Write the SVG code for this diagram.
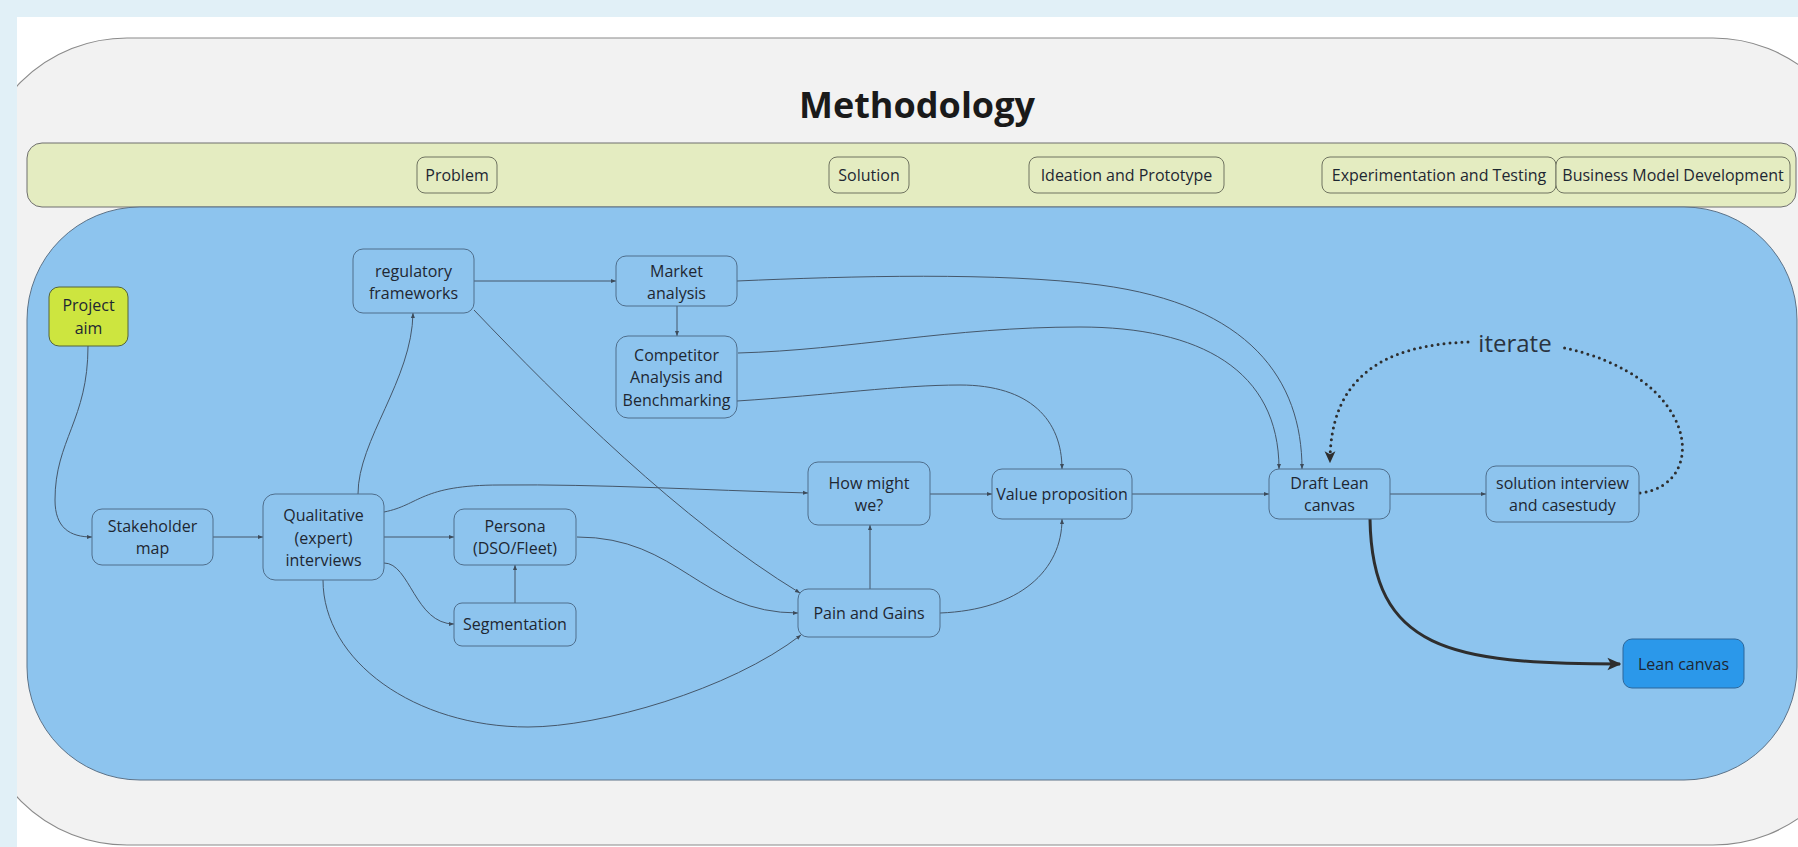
<svg xmlns="http://www.w3.org/2000/svg" width="1798" height="847" viewBox="0 0 1798 847">
<style>
text{font-family:"Open Sans","Liberation Sans",sans-serif;fill:#1e2732;font-size:16px;text-anchor:middle}
.node{fill:#8dc4ee;stroke:#4f6e8c;stroke-width:1}
.phase{fill:#e4ecc1;stroke:#6f7360;stroke-width:1}
.c{fill:none;stroke:#45576a;stroke-width:1;marker-end:url(#a)}
</style>
<defs>
<clipPath id="frame"><rect x="17" y="17" width="1781" height="830"/></clipPath>
<marker id="a" viewBox="0 0 10 10" refX="10" refY="5" markerWidth="5" markerHeight="5" markerUnits="userSpaceOnUse" orient="auto"><path d="M0,1 L10,5 L0,9 z" fill="#3d4b5a"/></marker>
<marker id="big" viewBox="0 0 10 10" refX="9" refY="5" markerWidth="14" markerHeight="14" markerUnits="userSpaceOnUse" orient="auto"><path d="M0,0.5 L10,5 L0,9.5 L2.5,5 z" fill="#2e2e2e"/></marker>
<marker id="dotarrow" viewBox="0 0 10 10" refX="9" refY="5" markerWidth="12" markerHeight="12" markerUnits="userSpaceOnUse" orient="auto"><path d="M0,0.5 L10,5 L0,9.5 L2.5,5 z" fill="#2e2e2e"/></marker>
</defs>
<rect x="0" y="0" width="1798" height="847" fill="#e1f0f7"/>
<rect x="17" y="17" width="1781" height="830" fill="#ffffff"/>
<g id="frame-methodology" clip-path="url(#frame)">
<rect x="-23" y="38" width="1886" height="807" rx="150" ry="150" fill="#f2f2f2" stroke="#8a8a8a" stroke-width="1.2"/>
</g>
<text x="917" y="118" style="font-size:36px;font-weight:bold;fill:#1a1a1a">Methodology</text>
<g id="phase-band">
<rect x="27" y="143" width="1769" height="64" rx="15" fill="#e4ecc1" stroke="#6f6f6f" stroke-width="1"/>
</g>
<g id="phase-problem"><rect class="phase" x="417" y="157" width="80" height="36" rx="8"/><text x="457" y="181">Problem</text></g>
<g id="phase-solution"><rect class="phase" x="829" y="157" width="80" height="36" rx="8"/><text x="869" y="181">Solution</text></g>
<g id="phase-ideation"><rect class="phase" x="1029" y="157" width="195" height="36" rx="8"/><text x="1126.5" y="181">Ideation and Prototype</text></g>
<g id="phase-experimentation"><rect class="phase" x="1322" y="157" width="234" height="36" rx="8"/><text x="1439" y="181">Experimentation and Testing</text></g>
<g id="phase-business"><rect class="phase" x="1556" y="157" width="234" height="36" rx="8"/><text x="1673" y="181">Business Model Development</text></g>
<g id="workspace">
<rect x="27" y="207" width="1770" height="573" rx="113" ry="113" fill="#8dc4ee" stroke="#5d7388" stroke-width="1"/>
</g>
<g id="connectors">
<path class="c" d="M88,346 C88,420 55,440 55,500 C55,528 70,537 92,537"/>
<path class="c" d="M213,537 L263,537"/>
<path class="c" d="M384,537 L454,537"/>
<path class="c" d="M358,494 C358,440 412,380 413,313"/>
<path class="c" d="M384,512 C420,505 420,485 500,485 C600,484 700,490 808,493"/>
<path class="c" d="M384,563 C410,563 415,624 454,624"/>
<path class="c" d="M323,580 C323,661 415,727 528,727 C600,727 730,690 801,635"/>
<path class="c" d="M515,603 L515,565"/>
<path class="c" d="M577,537 C680,537 700,613 798,613"/>
<path class="c" d="M474,310 C560,400 680,520 800,593"/>
<path class="c" d="M474,281 L616,281"/>
<path class="c" d="M677,306 L677,336"/>
<path class="c" d="M737,281 C850,276 1000,272 1100,285 C1250,305 1302,380 1302,469"/>
<path class="c" d="M738,353 C850,350 950,327 1080,327 C1200,327 1279,370 1279,469"/>
<path class="c" d="M737,401 C830,395 900,385 960,385 C1030,385 1062,420 1062,469"/>
<path class="c" d="M1132,494 L1269,494"/>
<path class="c" d="M930,494 L992,494"/>
<path class="c" d="M870,589 L870,525"/>
<path class="c" d="M940,613 C1020,610 1062,570 1062,519"/>
<path class="c" d="M1390,494 L1486,494"/>
<path d="M1640,493 C1710,485 1700,375 1560,347" fill="none" stroke="#2e2e2e" stroke-width="3" stroke-linecap="round" stroke-dasharray="0 6"/>
<path d="M1468,342 C1380,345 1330,380 1330,462" fill="none" stroke="#2e2e2e" stroke-width="3" stroke-linecap="round" stroke-dasharray="0 6" marker-end="url(#dotarrow)"/>
<text x="1515" y="352" style="font-size:24px;fill:#2a3340">iterate</text>
<path d="M1370,519 C1372,650 1450,664 1620,664" fill="none" stroke="#2e2e2e" stroke-width="3" marker-end="url(#big)"/>
</g>
<g id="project-aim"><rect x="49" y="287" width="79" height="59" rx="10" fill="#cde53f" stroke="#55643a" stroke-width="1"/><text x="88.5" y="311">Project</text><text x="88.5" y="334">aim</text></g>
<g id="stakeholder-map"><rect class="node" x="92" y="509" width="121" height="56" rx="10"/><text x="152.5" y="532">Stakeholder</text><text x="152.5" y="554">map</text></g>
<g id="qualitative-interviews"><rect class="node" x="263" y="494" width="121" height="86" rx="12"/><text x="323.5" y="521">Qualitative</text><text x="323.5" y="543.5">(expert)</text><text x="323.5" y="566">interviews</text></g>
<g id="regulatory-frameworks"><rect class="node" x="353" y="249" width="121" height="64" rx="10"/><text x="413.5" y="276.5">regulatory</text><text x="413.5" y="298.5">frameworks</text></g>
<g id="market-analysis"><rect class="node" x="616" y="256" width="121" height="50" rx="10"/><text x="676.5" y="276.5">Market</text><text x="676.5" y="298.5">analysis</text></g>
<g id="competitor-analysis"><rect class="node" x="616" y="336" width="121" height="82" rx="12"/><text x="676.5" y="360.5">Competitor</text><text x="676.5" y="383">Analysis and</text><text x="676.5" y="405.5">Benchmarking</text></g>
<g id="persona"><rect class="node" x="454" y="509" width="122" height="56" rx="10"/><text x="515" y="531.5">Persona</text><text x="515" y="553.5">(DSO/Fleet)</text></g>
<g id="segmentation"><rect class="node" x="454" y="603" width="122" height="43" rx="8"/><text x="515" y="630">Segmentation</text></g>
<g id="how-might-we"><rect class="node" x="808" y="462" width="122" height="63" rx="10"/><text x="869" y="488.5">How might</text><text x="869" y="510.5">we?</text></g>
<g id="pain-gains"><rect class="node" x="798" y="589" width="142" height="48" rx="10"/><text x="869" y="618.5">Pain and Gains</text></g>
<g id="value-proposition"><rect class="node" x="992" y="469" width="140" height="50" rx="10"/><text x="1062" y="499.5">Value proposition</text></g>
<g id="draft-lean-canvas"><rect class="node" x="1269" y="469" width="121" height="50" rx="10"/><text x="1329.5" y="488.5">Draft Lean</text><text x="1329.5" y="511">canvas</text></g>
<g id="solution-interview"><rect class="node" x="1486" y="466" width="153" height="56" rx="10"/><text x="1562.5" y="488.5">solution interview</text><text x="1562.5" y="511">and casestudy</text></g>
<g id="lean-canvas"><rect x="1623" y="639" width="121" height="49" rx="9" fill="#2b98ea" stroke="#2c679b" stroke-width="1"/><text x="1683.5" y="669.5">Lean canvas</text></g>
</svg>
